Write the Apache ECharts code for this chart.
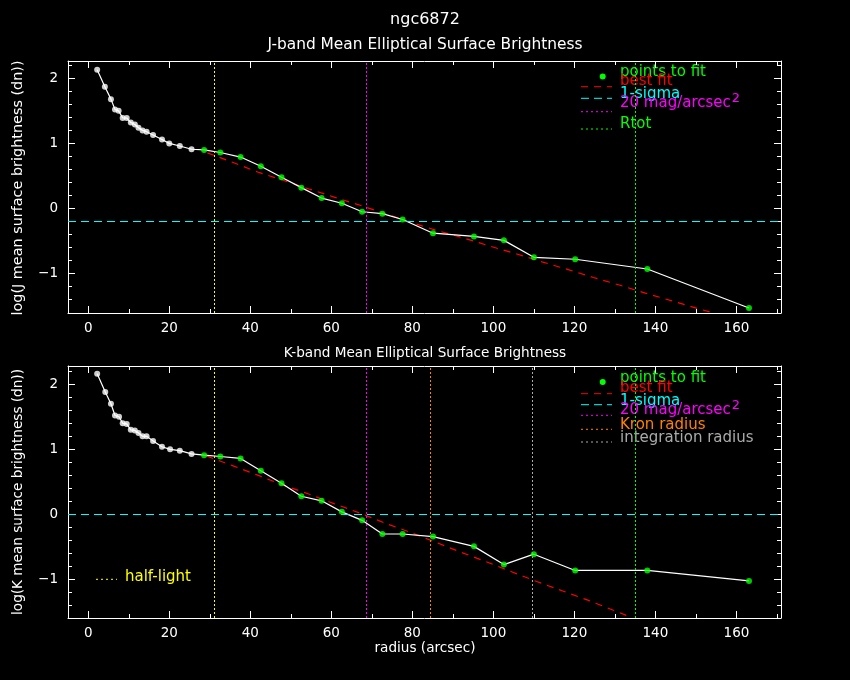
<!DOCTYPE html>
<html>
<head>
<meta charset="utf-8">
<title>ngc6872</title>
<script src="https://cdn.jsdelivr.net/npm/echarts@6/dist/echarts.min.js"></script>
<style>
html,body{margin:0;padding:0;background:#000;}
#container{width:850px;height:680px;}
</style>
</head>
<body>
<div id="container"></div>
<script>
// ticks
var xMajor = [0,20,40,60,80,100,120,140,160];
var xMinor = [10,30,50,70,90,110,130,150,170];
var yMajor = [-1,0,1,2];
var yMinor = [-1.4,-1.2,-0.8,-0.6,-0.4,-0.2,0.2,0.4,0.6,0.8,1.2,1.4,1.6,1.8,2.2];

// J band profile (white = inner points, green = points to fit)
var jInnerR = [2.2,4.1,5.6,6.6,7.5,8.5,9.5,10.5,11.5,12.4,13.4,14.4,16.0,18.2,20.0,22.6,25.5];
var jInnerY = [2.13,1.87,1.68,1.52,1.50,1.39,1.39,1.32,1.29,1.24,1.20,1.18,1.13,1.06,1.00,0.96,0.91];
var jFitR = [28.6,32.6,37.6,42.6,47.7,52.6,57.6,62.6,67.6,72.6,77.6,85.1,95.2,102.6,110.0,120.2,138.0,163.1];
var jFitY = [0.90,0.86,0.79,0.65,0.48,0.32,0.16,0.08,-0.05,-0.08,-0.17,-0.38,-0.43,-0.49,-0.75,-0.78,-0.93,-1.53];
// J best fit curve
var jBestR = [29.4,35.6,41.8,48.3,54.5,60.9,67.3,73.7,79.9,86.4,93.0,99.2,105.8,112.0,118.5,124.7,131.3,137.5,144.1,150.6,154.0];
var jBestY = [0.855,0.71,0.56,0.43,0.30,0.17,0.046,-0.088,-0.22,-0.345,-0.46,-0.58,-0.70,-0.82,-0.94,-1.06,-1.18,-1.30,-1.42,-1.54,-1.60];
var jSigma = -0.20;
var jHalf = 31.1, jMag20 = 68.6, jRtot = 135.1;

// K band profile
var kInnerR = [2.2,4.2,5.6,6.6,7.6,8.5,9.5,10.5,11.5,12.4,13.4,14.4,16.0,18.2,20.2,22.6,25.5];
var kInnerY = [2.16,1.88,1.70,1.52,1.50,1.40,1.39,1.30,1.29,1.25,1.20,1.20,1.13,1.04,1.00,0.98,0.93];
var kFitR = [28.6,32.6,37.6,42.6,47.7,52.6,57.6,62.6,67.6,72.6,77.6,85.1,95.2,102.6,110.0,120.2,138.0,163.1];
var kFitY = [0.91,0.89,0.86,0.67,0.48,0.28,0.21,0.04,-0.09,-0.30,-0.30,-0.34,-0.49,-0.77,-0.61,-0.86,-0.86,-1.02];
var kBestR = [29.2,35.6,42.0,48.1,54.6,60.8,67.1,73.3,79.6,85.9,92.0,98.4,104.5,110.7,117.1,123.5,129.6,133.6];
var kBestY = [0.897,0.75,0.60,0.45,0.31,0.163,0.02,-0.134,-0.277,-0.43,-0.58,-0.73,-0.88,-1.03,-1.175,-1.32,-1.47,-1.57];
var kSigma = 0.0;
var kHalf = 31.1, kMag20 = 68.6, kKron = 84.3, kInteg = 109.7, kRtot = 135.1;

var FONT = 'DejaVu Sans';
var LEG = 15;
var GREEN = '#00ff00', RED = '#ff0000', CYAN = '#00ffff', MAG = '#ff00ff',
    YEL = '#ffff00', ORANGE = '#ff8000', GREY = '#aaaaaa';

function zip(a, b){
  var out = [];
  for (var i = 0; i < a.length; i++) out.push([a[i], b[i]]);
  return out;
}
function minus(v){ return String(v).replace('-', '\u2212'); }

function axisSet(g, dim, lo, hi, major, minor){
  var pos = dim == 'x' ? ['bottom','top'] : ['left','right'];
  var list = [];
  for (var p = 0; p < 2; p++){
    list.push({
      gridIndex: g, type: 'value', position: pos[p], min: lo, max: hi,
      axisLine: {show: true, onZero: false, lineStyle: {color: '#fff', width: 1}},
      axisTick: {show: true, inside: true, length: 7, customValues: major, lineStyle: {color: '#fff'}},
      axisLabel: {show: p == 0, customValues: major, color: '#fff', fontSize: 13.5, fontFamily: FONT,
                  margin: dim == 'x' ? 8 : 10, formatter: minus},
      splitLine: {show: false}
    });
    list.push({
      gridIndex: g, type: 'value', position: pos[p], min: lo, max: hi,
      axisLine: {show: false, onZero: false},
      axisTick: {show: true, inside: true, length: 4, customValues: minor, lineStyle: {color: '#fff'}},
      axisLabel: {show: false},
      splitLine: {show: false}
    });
  }
  return list;
}

function vline(x, color){
  return {xAxis: x, lineStyle: {color: color, type: [2,2], width: 1}};
}

function panelSeries(ax, innerR, innerY, fitR, fitY, bestR, bestY, marks){
  return [
    {type: 'line', xAxisIndex: ax, yAxisIndex: ax, data: zip(bestR, bestY), showSymbol: false,
     lineStyle: {color: RED, width: 1.2, type: [7,6]}, z: 3},
    {type: 'line', xAxisIndex: ax, yAxisIndex: ax, data: zip(innerR.concat(fitR), innerY.concat(fitY)),
     showSymbol: false, lineStyle: {color: '#fff', width: 1.2}, z: 4,
     markLine: {symbol: 'none', silent: true, label: {show: false}, data: marks}},
    {type: 'scatter', xAxisIndex: ax, yAxisIndex: ax, data: zip(innerR, innerY), symbol: 'circle',
     symbolSize: 6, itemStyle: {color: '#fff'}, z: 5},
    {type: 'scatter', xAxisIndex: ax, yAxisIndex: ax, data: zip(fitR, fitY), symbol: 'circle',
     symbolSize: 6, itemStyle: {color: GREEN}, z: 5}
  ];
}

function txt(s, x, y, color, size, opts){
  var o = {type: 'text', x: x, y: y, silent: true,
    style: {text: s, fill: color, fontSize: size, fontFamily: FONT,
            align: 'left', verticalAlign: 'middle'}};
  if (opts) for (var k in opts) o.style[k] = opts[k];
  return o;
}
function seg(x1, x2, y, color, dash){
  return {type: 'line', silent: true, shape: {x1: x1, y1: y, x2: x2, y2: y},
          style: {stroke: color, lineWidth: 1, lineDash: dash}};
}
function dot(x, y, color){
  return {type: 'circle', silent: true, shape: {cx: x, cy: y, r: 3}, style: {fill: color}};
}
var magRich = {s: {fontSize: 13, fontFamily: FONT, fill: MAG, padding: [0,0,10,1]}};

var graphics = [
  txt('ngc6872', 425, 20, '#fff', 16, {align: 'center'}),
  txt('J-band Mean Elliptical Surface Brightness', 425, 45, '#fff', 15.4, {align: 'center'}),
  txt('K-band Mean Elliptical Surface Brightness', 425, 353, '#fff', 13.6, {align: 'center'}),
  txt('radius (arcsec)', 425, 648, '#fff', 13.6, {align: 'center'}),
  {type: 'text', x: 18, y: 188, rotation: Math.PI / 2, silent: true,
   style: {text: 'log(J mean surface brightness (dn))', fill: '#fff', fontSize: 14.4, fontFamily: FONT,
           align: 'center', verticalAlign: 'middle'}},
  {type: 'text', x: 18, y: 492, rotation: Math.PI / 2, silent: true,
   style: {text: 'log(K mean surface brightness (dn))', fill: '#fff', fontSize: 13.6, fontFamily: FONT,
           align: 'center', verticalAlign: 'middle'}},

  // J legend
  dot(602.7, 76.5, GREEN), txt('points to fit', 620, 72, GREEN, LEG),
  seg(581, 612, 86.7, RED, [7,6]), txt('best fit', 620, 81.5, RED, LEG),
  seg(581, 612, 98.3, CYAN, [8,5]), txt('1-sigma', 620, 94.5, CYAN, LEG),
  seg(581, 612, 111.7, MAG, [2,3]), txt('20 mag/arcsec{s|2}', 620, 103.5, MAG, LEG, {rich: magRich}),
  seg(581, 612, 129, GREEN, [2,3]), txt('Rtot', 620, 124, GREEN, LEG),

  // K legend
  dot(602.7, 382, GREEN), txt('points to fit', 620, 378.5, GREEN, LEG),
  seg(581, 612, 393.7, RED, [7,6]), txt('best fit', 620, 388.5, RED, LEG),
  seg(581, 612, 404.7, CYAN, [8,5]), txt('1-sigma', 620, 401.5, CYAN, LEG),
  seg(581, 612, 415.3, MAG, [2,3]), txt('20 mag/arcsec{s|2}', 620, 410.5, MAG, LEG, {rich: magRich}),
  seg(581, 612, 429.3, ORANGE, [2,3]), txt('Kron radius', 620, 425, ORANGE, LEG),
  seg(581, 612, 442, GREY, [2,3]), txt('integration radius', 620, 438, GREY, LEG),

  // half-light key
  seg(96, 117, 579.3, YEL, [2,3]), txt('half-light', 125, 577, YEL, LEG)
];

var X_MIN = -5, X_MAX = 171;
var xAxes = axisSet(0, 'x', X_MIN, X_MAX, xMajor, xMinor).concat(axisSet(1, 'x', X_MIN, X_MAX, xMajor, xMinor));
var yAxes = axisSet(0, 'y', -1.606, 2.266, yMajor, yMinor).concat(axisSet(1, 'y', -1.59, 2.28, yMajor, yMinor));

var series = panelSeries(0, jInnerR, jInnerY, jFitR, jFitY, jBestR, jBestY, [
  vline(jHalf, YEL), vline(jMag20, MAG), vline(jRtot, GREEN),
  {yAxis: jSigma, lineStyle: {color: CYAN, type: [8,5], width: 1}}
]).concat(panelSeries(4, kInnerR, kInnerY, kFitR, kFitY, kBestR, kBestY, [
  vline(kHalf, YEL), vline(kMag20, MAG), vline(kKron, ORANGE), vline(kInteg, GREY), vline(kRtot, GREEN),
  {yAxis: kSigma, lineStyle: {color: CYAN, type: [8,5], width: 1}}
]));

var myChart = echarts.init(document.getElementById('container'));
myChart.setOption({
  backgroundColor: '#000',
  animation: false,
  grid: [
    {left: 68, top: 61, width: 713, height: 252},
    {left: 68, top: 366, width: 713, height: 252}
  ],
  xAxis: xAxes,
  yAxis: yAxes,
  series: series,
  graphic: graphics
});
</script>
</body>
</html>
